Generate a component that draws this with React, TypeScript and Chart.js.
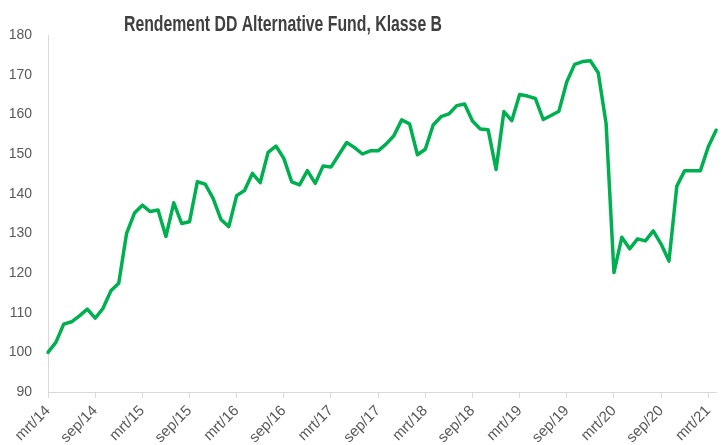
import React, { useEffect, useRef } from "react";
import { Chart, registerables } from "chart.js";

Chart.register(...registerables);

const TITLE = "Rendement DD Alternative Fund, Klasse B";
const MONTHS = ["jan", "feb", "mrt", "apr", "mei", "jun", "jul", "aug", "sep", "okt", "nov", "dec"];
const START_YEAR = 14;
const START_MONTH = 2; // mrt
const LABEL_EVERY = 6;

const values = [
  100.0, 102.5, 107.1, 107.7, 109.2, 110.9, 108.6, 111.1, 115.5, 117.4, 130.0, 135.1,
  137.1, 135.5, 135.9, 129.2, 137.7, 132.5, 132.9, 143.0, 142.4, 138.8, 133.5, 131.7,
  139.5, 140.8, 145.1, 142.8, 150.4, 152.0, 148.9, 143.0, 142.2, 145.8, 142.6, 147.0,
  146.7, 149.8, 152.9, 151.6, 150.0, 150.8, 150.8, 152.5, 154.6, 158.6, 157.6, 149.8,
  151.2, 157.3, 159.4, 160.1, 162.2, 162.6, 158.3, 156.3, 156.1, 146.1, 160.7, 158.4,
  165.0, 164.6, 164.0, 158.7, 159.7, 160.8, 168.2, 172.6, 173.3, 173.5, 170.5, 157.7,
  120.1, 129.0, 126.1, 128.6, 128.1, 130.6, 127.3, 123.0, 141.9, 145.8, 145.8, 145.8,
  151.8, 156.0,
];

const categories: string[] = values.map((_, i) => {
  const m = START_MONTH + i;
  return MONTHS[m % 12] + "/" + String(START_YEAR + Math.floor(m / 12));
});

const Y_MIN = 90;
const Y_MAX = 180;
const Y_STEP = 10;

const FONT = '"Liberation Sans", Arial, sans-serif';

const titlePlugin = {
  id: "squeezedTitle",
  afterDraw(chart: any) {
    const ctx = chart.ctx;
    ctx.save();
    ctx.font = 'bold 22px "Liberation Sans", Arial, sans-serif';
    const w = ctx.measureText(TITLE).width;
    const sx = 318 / w;
    ctx.translate(283, 31);
    ctx.scale(sx, 1);
    ctx.fillStyle = "#404040";
    ctx.textAlign = "center";
    ctx.textBaseline = "alphabetic";
    ctx.fillText(TITLE, 0, 0);
    ctx.restore();
  },
};

const bgPlugin = {
  id: "whiteBg",
  beforeDraw(chart: any) {
    const ctx = chart.ctx;
    ctx.save();
    ctx.fillStyle = "#ffffff";
    ctx.fillRect(0, 0, chart.width, chart.height);
    ctx.restore();
  },
};

export default function App() {
  const ref = useRef<HTMLCanvasElement | null>(null);

  useEffect(() => {
    if (!ref.current) return;
    const chart = new Chart(ref.current, {
      type: "line",
      data: {
        labels: categories,
        datasets: [
          {
            data: values,
            borderColor: "#00B050",
            backgroundColor: "#00B050",
            borderWidth: 3.5,
            pointRadius: 0,
            tension: 0,
            borderJoinStyle: "round",
            borderCapStyle: "round",
            fill: false,
          },
        ],
      },
      options: {
        animation: false,
        responsive: false,
        layout: { padding: { top: 35, left: 8, right: 0, bottom: 0 } },
        plugins: {
          legend: { display: false },
          title: { display: false },
          tooltip: { enabled: false },
        },
        scales: {
          x: {
            type: "category",
            offset: false,
            grid: {
              drawOnChartArea: false,
              drawTicks: true,
              tickLength: 6,
              color: "#d9d9d9",
            },
            border: { display: true, color: "#d9d9d9", width: 1 },
            ticks: {
              autoSkip: false,
              maxRotation: 45,
              minRotation: 45,
              color: "#595959",
              font: { family: FONT, size: 15 },
              padding: 4,
              callback: (_v: any, i: number) => (i % LABEL_EVERY === 0 ? categories[i] : null),
            },
            afterFit: (s: any) => {
              s.height = 53;
            },
          },
          y: {
            min: Y_MIN,
            max: Y_MAX,
            grid: { drawOnChartArea: false, drawTicks: false },
            border: { display: true, color: "#d9d9d9", width: 1 },
            ticks: {
              stepSize: Y_STEP,
              color: "#595959",
              font: { family: FONT, size: 14 },
              padding: 16,
            },
            afterFit: (s: any) => {
              s.width = 40;
            },
          },
        },
      },
      plugins: [bgPlugin, titlePlugin],
    });
    return () => chart.destroy();
  }, []);

  return (
    <div style={{ position: "fixed", left: 0, top: 0, width: 725, height: 445, background: "#fff" }}>
      <canvas ref={ref} width={725} height={445} style={{ display: "block" }} />
    </div>
  );
}
